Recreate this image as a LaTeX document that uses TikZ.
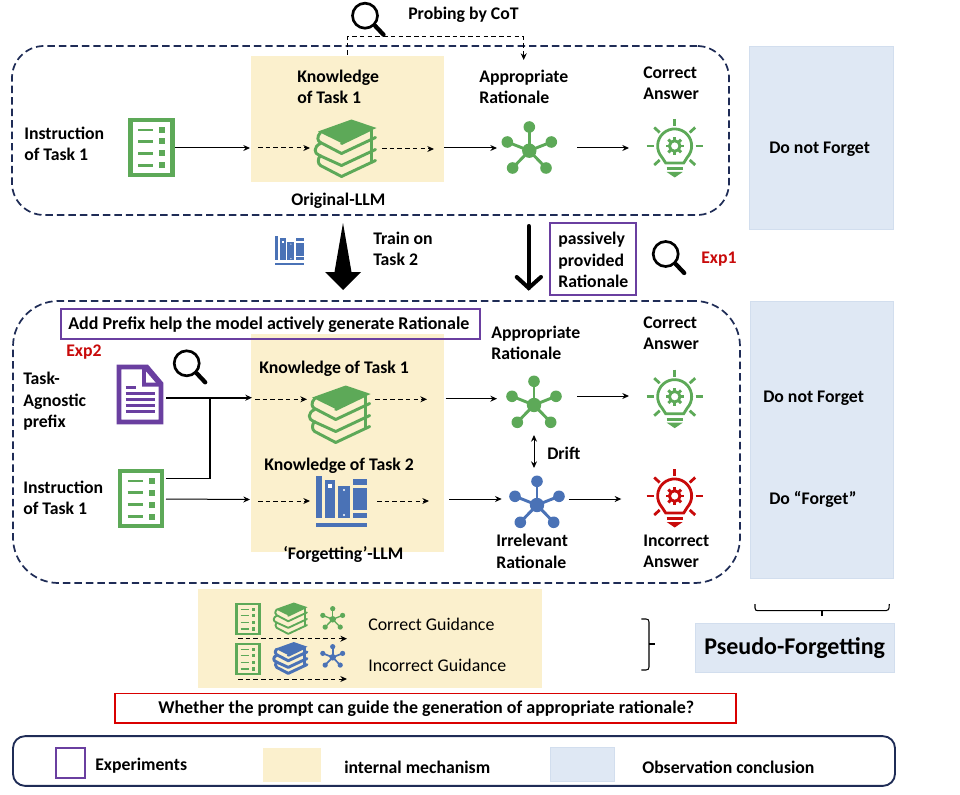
\documentclass[tikz,border=0pt]{standalone}
\usepackage{fontspec}
\setmainfont{Carlito}
\usetikzlibrary{arrows.meta}
\definecolor{navy}{HTML}{1F2C56}
\definecolor{grn}{HTML}{5DA958}
\definecolor{blu}{HTML}{4A72B6}
\definecolor{pur}{HTML}{6A3FA0}
\definecolor{redx}{HTML}{C80A0A}
\definecolor{yel}{HTML}{FBF0CD}
\definecolor{lblu}{HTML}{DFE8F4}
\definecolor{lbord}{HTML}{D2DEEE}
\tikzset{
  lab/.style={font=\fontsize{13.3}{16}\selectfont\bfseries,align=left,anchor=west,inner sep=0pt,text=black},
  reg/.style={font=\fontsize{13.4}{16}\selectfont,align=left,anchor=west,inner sep=0pt,text=black},
  redlab/.style={lab,text=redx},
  ib/.style={inner sep=0pt,outer sep=0pt,minimum width=#1,minimum height=#1},
  panel/.style={fill=#1,draw=none,inner sep=0pt,outer sep=0pt},
  obs/.style={fill=lblu,draw=lbord,line width=.7pt,inner sep=0pt,outer sep=0pt},
  bigdash/.style={draw=navy,line width=1.3pt,dash pattern=on 5.6pt off 3pt},
  dasharrow/.style={draw=black,line width=.75pt,dash pattern=on 3.4pt off 2.4pt,-{Stealth[length=5pt,width=4.5pt]}},
  solidarrow/.style={draw=black,line width=.75pt,-{Stealth[length=5pt,width=4.5pt]}},
  expbox/.style={draw=pur,line width=1.4pt,inner sep=0pt,outer sep=0pt},
  pics/listicon/.style 2 args={code={
    \draw[#1,line width=#2] (-21,-27.5) rectangle (21,27.5);
    \foreach \yy in {-17.5,-6,6,18}{
      \draw[#1,line width=.6*#2] (-13.5,\yy) -- (1.5,\yy);
      \fill[#1] (7.5,\yy-3) rectangle (13.5,\yy+3);
    }
  }},
  pics/docicon/.style={code={
    \draw[pur,line width=3.4pt,line join=miter] (-21,-27.5) -- (7,-27.5) -- (21,-11) -- (21,27.5) -- (-21,27.5) -- cycle;
    \fill[pur] (2,-27.5) -- (7,-27.5) -- (21,-11) -- (21,-8) -- (2,-8) -- cycle;
    \fill[white] (6,-23) -- (6,-12) -- (15.5,-12) -- cycle;
    \draw[pur,line width=1.9pt] (-14.3,-6.8) -- (-4.3,-6.8);
    \foreach \yy in {-.8,5.2,11.2,17.2}{\draw[pur,line width=1.9pt] (-14.3,\yy) -- (14.7,\yy);}
  }},
  pics/bookicon/.style 2 args={code={
    \fill[#1,line join=round] (5,-29) -- (30,-20.5) -- (-5,-5.5) -- (-28.5,-17) -- cycle;
    \begin{scope}[line width=#2,draw=#1,line join=round,line cap=round]
      \draw[#1] (-26,-16) .. controls (-30,-12) and (-29,-7) .. (-26,-6) -- (-5,5) -- (29,-11);
      \draw[#1] (-26,-5) .. controls (-33,-2) and (-33,5) .. (-27,7) -- (-5,17) -- (29,1);
      \draw[#1] (-26,7) .. controls (-29,10) and (-29,15) .. (-26,17) -- (-5,28) -- (29,12);
      \draw[#1] (25,-19) -- (25,-9);
      \draw[#1] (25,-8) -- (25,3);
      \draw[#1] (25,4) -- (25,14);
      \draw[#1] (-5,-5) -- (24,-19);
    \end{scope}
  }},
  pics/neticon/.style 2 args={code={
    \foreach \xa/\ya in {0/-23.7,-22/-8.7,22/-8.7,-16.7/17.3,16.7/17.3}{
      \draw[#1,line width=#2] (0,0) -- (\xa,\ya);
      \fill[#1] (\xa,\ya) circle[radius=5.8];
    }
    \fill[#1] (0,0) circle[radius=7.2];
  }},
  pics/bulbicon/.style={code={
    \begin{scope}[draw=#1,line width=2.1pt]
    \draw (-9,17) -- (-12.7,11.3) arc[start angle=138,end angle=402,radius=17] -- (9,17) -- cycle;
    \draw (0,-27) -- (0,-20);
    \draw (-28,0) -- (-21,0);
    \draw (21,0) -- (28,0);
    \draw (-20.5,-18.5) -- (-15,-13.5);
    \draw (20.5,-18.5) -- (15,-13.5);
    \draw (-20.5,19) -- (-15,14);
    \draw (20.5,19) -- (15,14);
    \draw (-8,22.5) -- (8,22.5);
    \draw[line width=2.2pt] (0,0) circle[radius=5.3];
    \foreach \aa in {0,45,...,315}{\draw[line width=2.2pt] (\aa:6) -- (\aa:9);}
    \end{scope}
    \fill[#1] (-8,26) -- (8,26) -- (0,31.5) -- cycle;
  }},
  pics/lensicon/.style={code={
    \draw[black,line width=2pt] (0,0) circle[radius=12.5];
    \draw[black,line width=3.2pt,line cap=round] (10,10) -- (18.5,19);
  }},
  pics/shelficon/.style={code={
    \fill[blu] (-25.5,-25.5) rectangle (-19.5,17);
    \fill[blu] (-16.5,-21) rectangle (-6.5,17);
    \fill[white] (-13.5,-17) rectangle (-9.5,-13);
    \fill[blu] (-3.5,-15) rectangle (8.5,17);
    \fill[white] (2.5,-11) circle[radius=1.1] (2.5,14) circle[radius=1.1];
    \fill[blu] (11.5,-22) rectangle (25.5,-16);
    \fill[blu] (11.5,-13) rectangle (25.5,9);
    \fill[blu] (11.5,12) rectangle (25.5,17);
    \fill[blu] (-25.5,21.5) rectangle (25.5,25.5);
  }}
}
\begin{document}
\begin{tikzpicture}[x=.75pt,y=-.75pt]
\useasboundingbox (0,0) rectangle (960,795);
% panels
\node[panel=yel,minimum width=193*.75pt,minimum height=126*.75pt] (yA) at (347.5,119) {};
\node[panel=yel,minimum width=193*.75pt,minimum height=218*.75pt] (yB) at (347.5,443) {};
\node[panel=yel,minimum width=344*.75pt,minimum height=99*.75pt] (yC) at (370,638.5) {};
\node[obs,minimum width=144*.75pt,minimum height=183*.75pt] (oA) at (821,137.5) {};
\node[obs,minimum width=143*.75pt,minimum height=277*.75pt] (oB) at (821.5,439.5) {};
\node[obs,minimum width=199*.75pt,minimum height=49.5*.75pt] (oC) at (795.3,648) {};
% dashed containers
\node[bigdash,rounded corners=24pt,minimum width=717*.75pt,minimum height=169*.75pt,inner sep=0pt] (boxA) at (370.5,130.5) {};
\node[bigdash,rounded corners=34pt,minimum width=727*.75pt,minimum height=282*.75pt,inner sep=0pt] (boxB) at (376.5,442) {};
% icon holders
\node[ib=46pt] (listA) at (151.5,147.5) {};
\node[ib=40pt] (bookA) at (346.5,148.5) {};
\node[ib=40pt] (netA) at (529.3,150.7) {};
\node[ib=40pt] (bulbA) at (674.7,146) {};
\node[ib=30pt] (docB) at (140,394.5) {};
\node[ib=30pt] (listB) at (141,498.5) {};
\node[ib=40pt] (bookB) at (340.7,414.5) {};
\node[ib=30pt] (shelfB) at (341.5,501) {};
\node[ib=40pt] (netB) at (534,405) {};
\node[ib=40pt] (netC) at (537,505) {};
\node[ib=40pt] (bulbB) at (674.7,396.7) {};
\node[ib=40pt] (bulbC) at (674.7,496) {};
\pic at (listA) {listicon={grn}{3.2pt}};
\pic at (bookA) {bookicon={grn}{2.2pt}};
\pic at (netA) {neticon={grn}{2.2pt}};
\pic at (bulbA) {bulbicon=grn};
\pic at (docB) {docicon};
\pic at (listB) {listicon={grn}{3.2pt}};
\pic at (bookB) {bookicon={grn}{2.2pt}};
\pic at (shelfB) {shelficon};
\pic at (netB) {neticon={grn}{2.2pt}};
\pic at (netC) {neticon={blu}{2.2pt}};
\pic at (bulbB) {bulbicon=grn};
\pic at (bulbC) {bulbicon=redx};
\pic[scale=.58] at (289.5,250.5) {shelficon};
\pic at (365,15.7) {lensicon};
\pic at (665.7,254) {lensicon};
\pic at (186.7,363.3) {lensicon};
% mini icons
\pic[scale=.55] at (248,619) {listicon={grn}{1.9pt}};
\pic[scale=.55] at (248,659) {listicon={grn}{1.9pt}};
\pic[scale=.55] at (291,618.5) {bookicon={grn}{1.4pt}};
\pic[scale=.55] at (291,658) {bookicon={blu}{2.2pt}};
\pic[scale=.45] at (332.7,619.3) {neticon={grn}{1pt}};
\pic[scale=.45] at (332.7,657.3) {neticon={blu}{1.3pt}};
% text
\node[lab] (tProbe) at (408,14.5) {Probing by CoT};
\node[lab] (tKn) at (297,87) {Knowledge\\of Task 1};
\node[lab] (tInst) at (24,144) {Instruction\\of Task 1};
\node[lab] (tOrig) at (291,200.5) {Original-LLM};
\node[lab] (tTrain) at (373,249) {Train on\\Task 2};
\node[lab] (tApp) at (479,87) {Appropriate\\Rationale};
\node[lab] (tCor) at (643,83) {Correct\\Answer};
\node[lab] (tDNF) at (769,149) {Do not Forget};
\node[expbox,minimum width=86*.75pt,minimum height=72*.75pt] (pBox) at (593,259) {};
\node[lab] (tPass) at (558,260) {passively\\provided\\Rationale};
\node[redlab] (tE1) at (701,259.5) {Exp1};
\node[expbox,minimum width=419.5*.75pt,minimum height=30*.75pt] (aBox) at (270.5,324) {};
\node[lab] (tAdd) at (68,324.5) {\fontsize{13.5}{16}\selectfont Add Prefix help the model actively generate Rationale};
\node[redlab] (tE2) at (66,352.5) {Exp2};
\node[lab] (tTask) at (23,401.5) {Task-\\Agnostic\\prefix};
\node[lab] (tInst2) at (23,497.5) {Instruction\\of Task 1};
\node[lab] (tK1) at (259,368.5) {Knowledge of Task 1};
\node[lab] (tK2) at (264,465.5) {Knowledge of Task 2};
\node[lab] (tFor) at (283,554.5) {‘Forgetting’-LLM};
\node[lab] (tApp2) at (491,343) {Appropriate\\Rationale};
\node[lab] (tCor2) at (643,333.5) {Correct\\Answer};
\node[lab] (tDrift) at (547,453.5) {Drift};
\node[lab] (tIrr) at (496,551.5) {Irrelevant\\Rationale};
\node[lab] (tInc) at (643,551.5) {Incorrect\\Answer};
\node[lab] (tDNF2) at (763,398) {Do not Forget};
\node[lab] (tDF) at (769,499) {Do “Forget”};
\node[reg] (tCG) at (368,624.5) {Correct Guidance};
\node[reg] (tIG) at (368,665.5) {Incorrect Guidance};
\node[lab] (tPF) at (704,648.5) {\fontsize{18}{20}\selectfont Pseudo-Forgetting};
\node[draw=red!85!black,line width=.9pt,inner sep=0pt,minimum width=621*.75pt,minimum height=29.7*.75pt] (rb) at (425.5,708.2) {};
\node[lab] (tW) at (158,709) {\fontsize{13.5}{16}\selectfont Whether the prompt can guide the generation of appropriate rationale?};
% legend
\node[draw=navy,line width=1.4pt,rounded corners=9pt,inner sep=0pt,minimum width=882*.75pt,minimum height=49.7*.75pt] (leg) at (454,761) {};
\node[expbox,minimum width=29*.75pt,minimum height=30*.75pt] (lgP) at (70.5,762.7) {};
\node[panel=yel,minimum width=57.5*.75pt,minimum height=34*.75pt] (lgY) at (292,764.7) {};
\node[obs,minimum width=64.5*.75pt,minimum height=34*.75pt] (lgB) at (582.3,764.7) {};
\node[lab] (tE) at (95,765.5) {Experiments};
\node[lab] (tIM) at (344,767.5) {internal mechanism};
\node[lab] (tOC) at (642,767.5) {Observation conclusion};
% coordinates for connector ends
\coordinate (a0) at (175,148);
\coordinate (a1) at (250,148);
\coordinate (a2) at (258,148);
\coordinate (a3) at (310,148);
\coordinate (a4) at (382,149);
\coordinate (a5) at (434,149);
\coordinate (a6) at (444,148);
\coordinate (a7) at (497,148);
\coordinate (a8) at (577,148);
\coordinate (a9) at (629,148);
\coordinate (p1) at (347,55);
\coordinate (p2) at (347,37);
\coordinate (p3) at (523.7,37);
\coordinate (p4) at (523.7,60);
\draw[solidarrow] (a0) -- (a1);
\draw[dasharrow] (a2) -- (a3);
\draw[dasharrow] (a4) -- (a5);
\draw[solidarrow] (a6) -- (a7);
\draw[solidarrow] (a8) -- (a9);
\draw[dasharrow] (p1) -- (p2) -- (p3) -- (p4);
% large arrows
\coordinate (bigTop) at (343,223);
\fill[black] (bigTop) -- (351.5,272) -- (361,272) -- (343,290) -- (325,272) -- (334.5,272) -- cycle;
\coordinate (q1) at (528.7,226);
\coordinate (q2) at (528.7,288);
\draw[black,line width=3pt,line cap=round] (q1) -- (q2);
\draw[black,line width=3pt,line cap=round] (516.7,277) -- (q2) -- (541,277);
% lower connectors
\coordinate (b0) at (166,397.7);
\coordinate (b1) at (252,397.7);
\coordinate (b2) at (255,399.3);
\coordinate (b3) at (307,399.3);
\coordinate (b4) at (375,399.3);
\coordinate (b5) at (427,399.3);
\coordinate (b6) at (445.7,398.7);
\coordinate (b7) at (497,398.7);
\coordinate (b8) at (577,396);
\coordinate (b9) at (629,396);
\coordinate (c0) at (166,478.5);
\coordinate (c1) at (210,478.5);
\coordinate (c2) at (210,397.7);
\coordinate (d0) at (166,499);
\coordinate (d1) at (250,499.5);
\coordinate (d2) at (258,501);
\coordinate (d3) at (310,501);
\coordinate (d4) at (377,501);
\coordinate (d5) at (429,501);
\coordinate (d6) at (449,499);
\coordinate (d7) at (501.7,499);
\coordinate (d8) at (568.7,499);
\coordinate (d9) at (621.3,499);
\draw[solidarrow,line width=1.2pt] (b0) -- (b1);
\draw[dasharrow] (b2) -- (b3);
\draw[dasharrow] (b4) -- (b5);
\draw[solidarrow] (b6) -- (b7);
\draw[solidarrow] (b8) -- (b9);
\draw[black,line width=1pt] (c0) -- (c1) -- (c2);
\draw[solidarrow] (d0) -- (d1);
\draw[dasharrow] (d2) -- (d3);
\draw[dasharrow] (d4) -- (d5);
\draw[solidarrow] (d6) -- (d7);
\draw[solidarrow] (d8) -- (d9);
\coordinate (e1) at (534,435);
\coordinate (e2) at (534,468);
\draw[solidarrow,{Stealth[length=5pt,width=4.5pt]}-{Stealth[length=5pt,width=4.5pt]}] (e1) -- (e2);
% mini arrows
\coordinate (f1) at (238,638.7);
\coordinate (f2) at (347,638.7);
\coordinate (f3) at (238,679);
\coordinate (f4) at (347,679);
\draw[dasharrow] (f1) -- (f2);
\draw[dasharrow] (f3) -- (f4);
% braces
\coordinate (g1) at (755,604);
\coordinate (g2) at (889.3,604);
\coordinate (g3) at (822,616);
\draw[black,line width=.8pt] (g1) -- (755,608) .. controls (755,610) and (756,610.7) .. (758,610.7) -- (886,610.7) .. controls (888,610.7) and (889.3,610) .. (g2);
\draw[black,line width=.8pt] (g3) -- (822,610.7);
\coordinate (h1) at (641.3,619);
\coordinate (h2) at (641.3,670);
\coordinate (h3) at (655,644);
\draw[black,line width=.8pt] (h1) -- (646,619) .. controls (648,619) and (649,620) .. (649,622) -- (649,667) .. controls (649,669) and (648,670) .. (646,670) -- (h2);
\draw[black,line width=.8pt] (649,644) -- (h3);
\end{tikzpicture}
\end{document}
